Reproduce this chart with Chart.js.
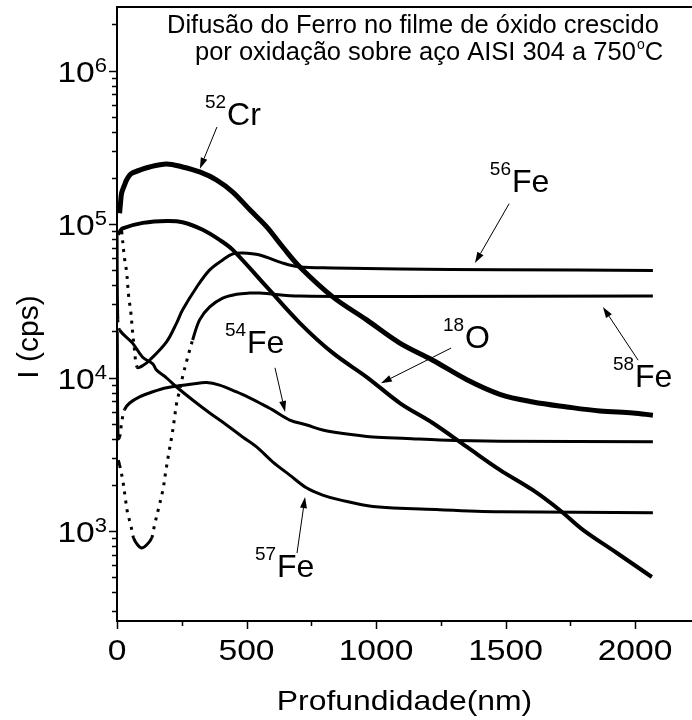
<!DOCTYPE html>
<html><head><meta charset="utf-8">
<style>html,body{margin:0;padding:0;background:#fff;overflow:hidden}canvas{display:block}</style>
<script src="https://cdn.jsdelivr.net/npm/chart.js@4.4.1/dist/chart.umd.min.js"></script>
</head><body>
<canvas id="c" width="692" height="720"></canvas>
<script>
// ---- data (depth in nm, intensity in cps) ----
const cr52X = [10, 14, 18, 29, 37, 49, 60, 126, 192, 253, 319, 385, 447, 513, 578, 640, 706, 833, 964, 1092, 1219, 1351, 1478, 1606, 1737, 1864, 1992, 2069];
const cr52Y = [1.18e5, 1.40e5, 1.60e5, 1.80e5, 1.94e5, 2.09e5, 2.16e5, 2.36e5, 2.47e5, 2.36e5, 2.19e5, 1.94e5, 1.62e5, 1.24e5, 9.6e4, 7.1e4, 5.26e4, 3.36e4, 2.38e4, 1.68e4, 1.30e4, 9.7e3, 7.8e3, 6.95e3, 6.45e3, 6.07e3, 5.89e3, 5.7e3];

const o18X = [3, 10, 22, 100, 192, 253, 331, 396, 447, 578, 706, 833, 964, 1092, 1219, 1351, 1478, 1606, 1710, 1799, 1930, 2065];
const o18Y = [8.6e4, 8.9e4, 9.4e4, 1.02e5, 1.05e5, 1.03e5, 9.2e4, 7.9e4, 6.8e4, 3.9e4, 2.27e4, 1.45e4, 1.01e4, 6.84e3, 5.07e3, 3.54e3, 2.51e3, 1.85e3, 1.37e3, 1.02e3, 721, 503];

const fe56X = [18, 29, 37, 45, 53, 60, 68, 78, 100, 126, 192, 230, 253, 308, 358, 408, 447, 485, 551, 640, 706, 833, 1092, 1478, 2069];
const fe56Y = [9.0e4, 6.0e4, 4.9e4, 3.4e4, 2.7e4, 2.0e4, 1.5e4, 1.17e4, 1.2e4, 1.3e4, 1.72e4, 2.27e4, 2.76e4, 3.9e4, 5.04e4, 5.85e4, 6.4e4, 6.5e4, 6.3e4, 5.58e4, 5.26e4, 5.19e4, 5.1e4, 5.05e4, 5.0e4];

const fe58X = [5, 10, 22, 33, 41, 53, 64, 80, 95, 114, 134, 145, 161, 177, 188, 200, 211, 221, 230, 242, 253, 273, 292, 319, 358, 408, 462, 512, 551, 706, 1092, 2069];
const fe58Y = [2.9e3, 2.7e3, 2.16e3, 1.6e3, 1.31e3, 1.10e3, 903, 813, 778, 813, 903, 1.10e3, 1.42e3, 1.85e3, 2.43e3, 3.23e3, 4.1e3, 5.3e3, 6.8e3, 8.3e3, 1.01e4, 1.36e4, 1.76e4, 2.38e4, 2.89e4, 3.3e4, 3.5e4, 3.56e4, 3.56e4, 3.4e4, 3.38e4, 3.4e4];

const fe54X = [1, 4, 10, 18, 29, 49, 87, 138, 192, 292, 346, 396, 462, 512, 551, 601, 667, 733, 794, 860, 988, 1119, 1246, 1478, 2069];
const fe54Y = [2.0e4, 4.0e3, 4.1e3, 5.07e3, 6.2e3, 6.84e3, 7.5e3, 8.1e3, 8.6e3, 9.1e3, 9.3e3, 8.95e3, 8.07e3, 7.38e3, 6.84e3, 6.17e3, 5.3e3, 4.92e3, 4.56e3, 4.36e3, 4.11e3, 4.02e3, 3.93e3, 3.86e3, 3.82e3];

const fe57X = [0, 3, 10, 60, 99, 138, 153, 192, 230, 292, 358, 423, 485, 539, 601, 667, 733, 794, 860, 988, 1246, 1478, 2069];
const fe57Y = [9.0e4, 2.4e4, 2.05e4, 1.68e4, 1.36e4, 1.23e4, 1.12e4, 9.95e3, 8.7e3, 7.16e3, 5.89e3, 4.92e3, 4.11e3, 3.54e3, 2.83e3, 2.32e3, 1.91e3, 1.72e3, 1.60e3, 1.45e3, 1.38e3, 1.34e3, 1.32e3];

// ---- ticks ----
const xMajorTicks = [0, 500, 1000, 1500, 2000];
const xMinorTicks = [250, 750, 1250, 1750];
const yMajorTicks = [1e3, 1e4, 1e5, 1e6];
const yMinorTicks = [300,400,500,600,700,800,900, 2e3,3e3,4e3,5e3,6e3,7e3,8e3,9e3, 2e4,3e4,4e4,5e4,6e4,7e4,8e4,9e4, 2e5,3e5,4e5,5e5,6e5,7e5,8e5,9e5, 2e6];

// ---- texts ----
const xTitle = 'Profundidade(nm)';
const yTitle = 'I (cps)';
const titleLine1 = 'Difusão do Ferro no filme de óxido crescido';
const titleLine2 = 'por oxidação sobre aço AISI 304 a 750';
const notes = [
  {sup:'52', main:'Cr', at:[425, 4.4e5], from:[386, 4.3e5], to:[320, 2.3e5]},
  {sup:'56', main:'Fe', at:[1525, 1.62e5], from:[1514, 1.36e5], to:[1382, 5.58e4]},
  {sup:'58', main:'Fe', at:[2000, 8.7e3], from:[2012, 1.30e4], to:[1876, 2.89e4]},
  {sup:'18', main:'O',  at:[1344, 1.56e4], from:[1290, 1.56e4], to:[1019, 9.2e3]},
  {sup:'54', main:'Fe', at:[502, 1.45e4], from:[610, 1.16e4], to:[649, 5.98e3]},
  {sup:'57', main:'Fe', at:[618, 504], from:[695, 721], to:[726, 1.67e3]}
];

const FONT = '"Liberation Sans", Arial, Helvetica, sans-serif';
function txt(ctx, s, x, y, size, align, sx) {
  sx = sx || 1;
  ctx.save();
  ctx.font = size + 'px ' + FONT;
  ctx.fillStyle = '#000';
  ctx.textBaseline = 'alphabetic';
  ctx.textAlign = 'left';
  const w = ctx.measureText(s).width * sx;
  const x0 = align === 'center' ? x - w / 2 : (align === 'right' ? x - w : x);
  ctx.translate(x0, y);
  ctx.scale(sx, 1);
  ctx.fillText(s, 0, 0);
  ctx.restore();
  return w;
}

function dotted(c) {
  const dx = Math.abs(c.p1.x - c.p0.x), dy = Math.abs(c.p1.y - c.p0.y);
  return (dx >= 1.5 && dy > 3 * dx) ? [3, 6] : undefined;
}
function series(xs, ys, w) {
  return {
    data: xs.map((x, i) => ({x: x, y: ys[i]})),
    borderColor: '#000', borderWidth: w, pointRadius: 0, fill: false,
    tension: 0.35, borderCapStyle: 'butt', borderJoinStyle: 'round',
    segment: {borderDash: dotted}
  };
}

const decor = {
  id: 'decor',
  afterDraw(chart) {
    const ctx = chart.ctx, xs = chart.scales.x, ys = chart.scales.y, a = chart.chartArea;
    ctx.save();
    ctx.strokeStyle = '#000';
    // top frame
    ctx.lineWidth = 2;
    ctx.beginPath(); ctx.moveTo(a.left - 1, a.top); ctx.lineTo(a.right + 2, a.top); ctx.stroke();
    // ticks
    ctx.lineWidth = 1.5;
    ctx.beginPath();
    xMajorTicks.forEach(v => { const p = Math.round(xs.getPixelForValue(v)) + 0.5; ctx.moveTo(p, a.bottom); ctx.lineTo(p, a.bottom + 8); });
    xMinorTicks.forEach(v => { const p = Math.round(xs.getPixelForValue(v)) + 0.5; ctx.moveTo(p, a.bottom); ctx.lineTo(p, a.bottom + 5); });
    yMajorTicks.forEach(v => { const p = Math.round(ys.getPixelForValue(v)) + 0.5; ctx.moveTo(a.left, p); ctx.lineTo(a.left - 8, p); });
    yMinorTicks.forEach(v => { const p = Math.round(ys.getPixelForValue(v)) + 0.5; ctx.moveTo(a.left, p); ctx.lineTo(a.left - 5, p); });
    ctx.stroke();
    // x tick labels
    xMajorTicks.forEach(v => txt(ctx, String(v), xs.getPixelForValue(v), 660, 30, 'center', 1.12));
    // y tick labels
    yMajorTicks.forEach(v => {
      const p = ys.getPixelForValue(v);
      const e = String(Math.round(Math.log10(v)));
      const supW = txt(ctx, e, 107, p + 1, 20, 'right', 1.1);
      txt(ctx, '10', 107 - supW, p + 11, 30, 'right', 1.12);
    });
    // axis titles
    txt(ctx, xTitle, (a.left + a.right) / 2, 710, 28, 'center', 1.14);
    ctx.save();
    ctx.translate(38, 337); ctx.rotate(-Math.PI / 2);
    txt(ctx, yTitle, 0, 0, 30, 'center', 1);
    ctx.restore();
    // title
    txt(ctx, titleLine1, 167, 33, 25.5, 'left');
    let w = txt(ctx, titleLine2, 195, 60, 25.5, 'left');
    let w2 = txt(ctx, 'o', 195 + w + 1, 49, 14, 'left');
    txt(ctx, 'C', 195 + w + w2 + 1, 60, 25.5, 'left');
    // notes
    notes.forEach(n => {
      const x = xs.getPixelForValue(n.at[0]), y = ys.getPixelForValue(n.at[1]);
      txt(ctx, n.main, x, y, 32, 'left');
      txt(ctx, n.sup, x - 1, y - 17, 19, 'right');
      const x1 = xs.getPixelForValue(n.from[0]), y1 = ys.getPixelForValue(n.from[1]);
      const x2 = xs.getPixelForValue(n.to[0]), y2 = ys.getPixelForValue(n.to[1]);
      const ang = Math.atan2(y2 - y1, x2 - x1), L = 11, H = 3.5;
      const bx = x2 - L * Math.cos(ang), by = y2 - L * Math.sin(ang);
      ctx.lineWidth = 1;
      ctx.beginPath(); ctx.moveTo(x1, y1); ctx.lineTo(bx, by); ctx.stroke();
      ctx.fillStyle = '#000';
      ctx.beginPath();
      ctx.moveTo(x2, y2);
      ctx.lineTo(bx + H * Math.sin(ang), by - H * Math.cos(ang));
      ctx.lineTo(bx - H * Math.sin(ang), by + H * Math.cos(ang));
      ctx.closePath(); ctx.fill();
    });
    ctx.restore();
  }
};

new Chart(document.getElementById('c'), {
  type: 'line',
  data: {datasets: [
    series(cr52X, cr52Y, 5),
    series(o18X, o18Y, 4),
    series(fe56X, fe56Y, 3),
    series(fe58X, fe58Y, 3),
    series(fe54X, fe54Y, 3),
    series(fe57X, fe57Y, 3)
  ]},
  options: {
    responsive: false, animation: false, devicePixelRatio: 1,
    layout: {padding: {top: 7, right: 0, left: 0, bottom: 0}},
    plugins: {legend: {display: false}, tooltip: {enabled: false}},
    scales: {
      x: {type: 'linear', min: 0, max: 2220, position: 'bottom',
          grid: {display: false}, border: {display: true, color: '#000', width: 2},
          ticks: {display: false}, afterFit: s => { s.height = 99; }},
      y: {type: 'logarithmic', min: 260, max: 2.6e6, position: 'left',
          grid: {display: false}, border: {display: true, color: '#000', width: 2},
          ticks: {display: false}, afterFit: s => { s.width = 117; }}
    }
  },
  plugins: [decor]
});
</script>
</body></html>
